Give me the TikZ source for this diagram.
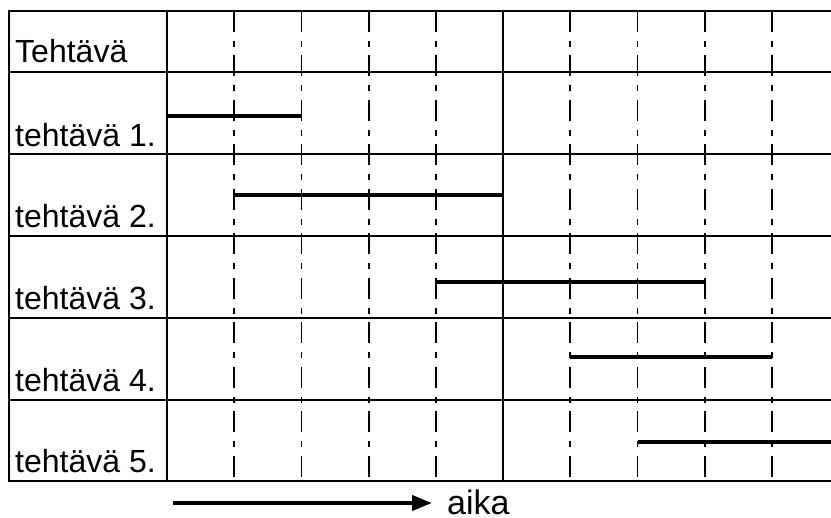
\documentclass[tikz,border=0pt]{standalone}
\usepackage{fontspec}
\setmainfont{Liberation Sans}
\usetikzlibrary{arrows.meta}
\begin{document}
\begin{tikzpicture}[x=1pt,y=-1pt,
  rule/.style={line width=1.8pt},
  dashdot/.style={line width=1.8pt, dash pattern=on 21pt off 9pt on 6pt off 8.5pt},
  taskbar/.style={line width=4.2pt},
  rowtext/.style={anchor=base west, inner sep=0pt, font=\fontsize{32}{38}\selectfont},
  timearrow/.style={line width=4pt, -{Triangle[length=20pt,width=15pt]}},
  ]
\useasboundingbox (0,0) rectangle (831,518);

% horizontal rules of the table
\foreach \y in {11,72,154,236,318,400,481}
  \draw[rule] (8.1,\y) -- (831,\y);

% solid verticals: outer border, label column, midpoint
\foreach \x in {9,167,503.2}
  \draw[rule] (\x,10.1) -- (\x,481.9);

% dash-dotted time divisions
\foreach \i in {1,2,3,4,6,7,8,9}
  \draw[dashdot] ({167+67.2*\i},11) -- ({167+67.2*\i},481);

% row labels
\node[rowtext] (hdr) at (15,63) {Tehtävä};
\node[rowtext] (t1) at (15,146.5) {tehtävä 1.};
\node[rowtext] (t2) at (15,228) {tehtävä 2.};
\node[rowtext] (t3) at (15,310) {tehtävä 3.};
\node[rowtext] (t4) at (15,392) {tehtävä 4.};
\node[rowtext] (t5) at (15,472.5) {tehtävä 5.};

% task durations
\draw[taskbar] (167,116) -- (301.4,116);
\draw[taskbar] (234.2,195) -- (503.2,195);
\draw[taskbar] (435.8,281.7) -- (705,281.7);
\draw[taskbar] (570.4,357) -- (772.2,357);
\draw[taskbar] (637.6,442) -- (831,442);

% time axis
\coordinate (arrowfrom) at (173,503);
\coordinate (arrowto) at (432,503);
\draw[timearrow] (arrowfrom) -- (arrowto);
\node[rowtext, font=\fontsize{34}{40}\selectfont] (aika) at (447,514.5) {aika};
\end{tikzpicture}
\end{document}
